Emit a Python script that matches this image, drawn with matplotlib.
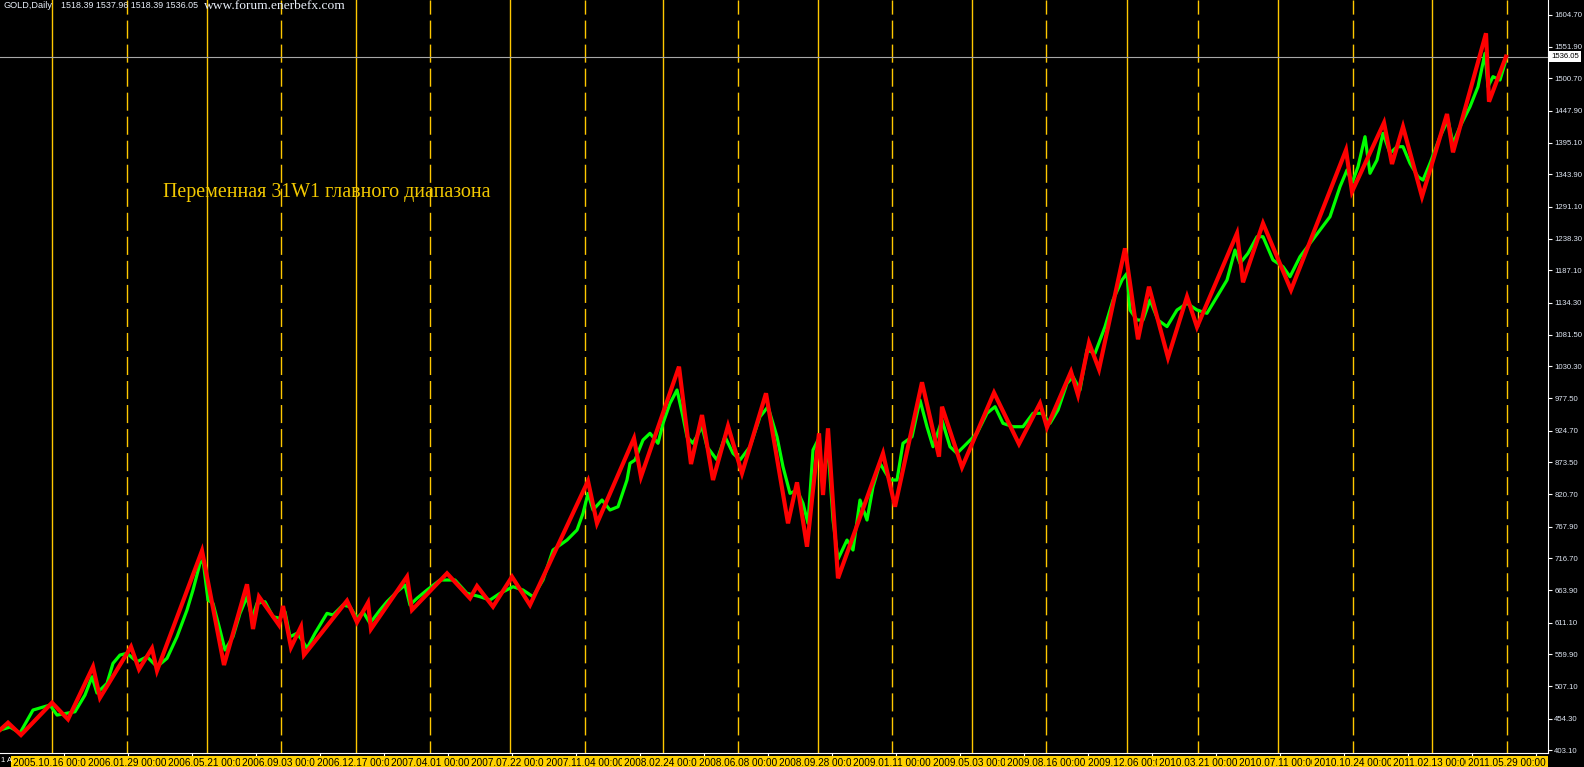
import matplotlib.pyplot as plt
import matplotlib.transforms as mtransforms

# zigzag "31W1" vertices: bar index (one bar per pixel) and price
zz_bar = [0, 8, 21, 52, 68, 93, 100, 131, 139, 152, 157, 202, 224, 247, 253, 259, 279, 283,
          291, 301, 304, 347, 357, 368, 371, 407, 412, 447, 470, 477, 493, 512, 530, 588,
          597, 634, 641, 679, 691, 702, 713, 728, 742, 766, 788, 797, 807, 819, 823, 828,
          838, 883, 895, 922, 939, 942, 962, 994, 1019, 1040, 1047, 1071, 1078, 1089, 1099,
          1125, 1138, 1149, 1168, 1187, 1197, 1237, 1243, 1263, 1291, 1346, 1352, 1384,
          1392, 1403, 1422, 1447, 1453, 1486, 1489, 1506]
zz_price = [435.8, 447.7, 427.6, 480.4, 453.2, 539.2, 488.5, 571.9, 535.0, 569.3, 532.7,
            728.8, 542.0, 673.9, 600.8, 653.6, 607.3, 638.4, 570.9, 604.6, 558.3, 647.1,
            611.8, 643.8, 600.8, 686.3, 632.0, 691.8, 651.0, 671.1, 637.3, 686.3, 640.0,
            842.7, 773.5, 912.5, 849.7, 1029.5, 870.4, 950.5, 844.3, 932.6, 855.3, 986.0,
            773.5, 840.5, 735.3, 920.6, 819.8, 928.8, 683.7, 887.9, 800.7, 1004.0, 882.4,
            964.1, 865.1, 987.0, 903.1, 969.6, 930.4, 1021.3, 983.2, 1068.7, 1025.2, 1222.9,
            1074.2, 1160.2, 1044.2, 1143.9, 1094.3, 1247.5, 1167.4, 1263.8, 1154.8, 1383.6,
            1315.4, 1428.2, 1360.7, 1421.7, 1307.3, 1442.4, 1379.8, 1574.3, 1462.5, 1536.1]

# daily GOLD price (green)
close_bar = [0, 10, 20, 33, 50, 57, 75, 85, 92, 97, 107, 113, 120, 127, 137, 147, 157, 167,
             177, 187, 193, 200, 203, 208, 213, 220, 225, 233, 240, 247, 252, 257, 265, 273,
             280, 285, 290, 297, 302, 307, 315, 327, 333, 343, 350, 357, 363, 370, 380, 387,
             397, 405, 410, 417, 427, 440, 455, 467, 480, 490, 500, 513, 523, 533, 543, 553,
             567, 577, 583, 588, 593, 602, 610, 618, 627, 630, 635, 643, 650, 658, 663, 670,
             677, 683, 687, 693, 702, 707, 717, 725, 733, 740, 750, 760, 768, 777, 783, 790,
             797, 803, 808, 813, 818, 823, 828, 833, 838, 847, 853, 860, 867, 873, 880, 890,
             897, 903, 912, 920, 927, 933, 942, 950, 957, 967, 977, 987, 995, 1003, 1013,
             1023, 1033, 1042, 1050, 1058, 1067, 1073, 1080, 1087, 1095, 1105, 1113, 1122,
             1127, 1130, 1137, 1143, 1150, 1158, 1167, 1177, 1187, 1197, 1207, 1217, 1227,
             1235, 1240, 1248, 1257, 1263, 1273, 1283, 1290, 1300, 1310, 1320, 1330, 1340,
             1347, 1352, 1358, 1365, 1370, 1377, 1383, 1390, 1397, 1403, 1410, 1418, 1423,
             1430, 1440, 1448, 1453, 1460, 1470, 1478, 1485, 1488, 1493, 1500, 1505, 1506]
close_price = [435.7, 440.6, 430.8, 468.4, 476.6, 460.2, 465.6, 492.9, 522.8, 496.2, 512.0,
               544.7, 558.3, 561.1, 547.3, 555.5, 539.2, 552.9, 588.2, 631.8, 664.5, 708.2,
               713.5, 648.2, 642.8, 599.2, 566.5, 588.2, 626.4, 653.6, 618.3, 642.8, 645.4,
               620.9, 618.3, 629.1, 588.2, 593.8, 582.8, 569.2, 593.8, 626.4, 623.7, 640.0,
               637.2, 618.3, 629.1, 610.1, 631.8, 645.4, 661.7, 672.7, 640.0, 651.0, 664.5,
               680.9, 680.9, 659.1, 653.6, 648.2, 659.1, 669.9, 664.5, 653.6, 680.9, 729.9,
               746.2, 762.6, 789.9, 822.5, 795.3, 811.6, 795.3, 800.6, 844.3, 871.6, 877.0,
               909.7, 920.6, 904.3, 936.9, 969.6, 991.4, 947.7, 915.0, 904.3, 931.4, 898.7,
               877.0, 915.0, 887.9, 877.0, 898.7, 947.7, 964.1, 915.0, 866.0, 822.5, 827.9,
               806.2, 773.5, 893.3, 909.7, 844.3, 898.7, 778.9, 715.0, 746.2, 729.9, 811.6,
               778.9, 833.3, 871.6, 844.3, 844.3, 904.3, 915.0, 975.0, 931.4, 898.7, 942.3,
               898.7, 887.9, 904.3, 920.6, 953.3, 964.1, 936.9, 931.4, 931.4, 953.3, 953.3,
               936.9, 958.7, 1002.3, 1013.1, 991.4, 1056.7, 1051.3, 1094.8, 1138.4, 1171.1,
               1182.1, 1122.1, 1105.7, 1105.7, 1138.4, 1105.7, 1095.0, 1122.1, 1133.0, 1122.1,
               1116.7, 1143.8, 1171.1, 1220.1, 1198.4, 1214.8, 1241.9, 1241.9, 1203.8, 1192.9,
               1176.5, 1209.2, 1231.1, 1252.8, 1274.6, 1323.6, 1350.9, 1329.2, 1356.3, 1405.3,
               1345.5, 1367.2, 1410.9, 1378.2, 1389.0, 1389.0, 1361.8, 1339.9, 1334.5, 1361.8,
               1405.3, 1432.6, 1394.5, 1421.6, 1454.3, 1487.0, 1541.6, 1487.0, 1503.4, 1498.0,
               1525.3, 1536.05]

y_ticks = [403.10, 454.30, 507.10, 559.90, 611.10, 663.90, 716.70, 767.90, 820.70, 873.50,
           924.70, 977.50, 1030.30, 1081.50, 1134.30, 1187.10, 1238.30, 1291.10, 1343.90,
           1395.10, 1447.90, 1500.70, 1551.90, 1604.70]

# vertical date lines and their labels
sep_bars = [52, 127, 207, 281, 356, 430, 510, 585, 663, 738, 818, 892, 972, 1046, 1127,
            1198, 1278, 1353, 1432, 1507]
sep_dates = ['2005.10.16', '2006.01.29', '2006.05.21', '2006.09.03', '2006.12.17',
             '2007.04.01', '2007.07.22', '2007.11.04', '2008.02.24', '2008.06.08',
             '2008.09.28', '2009.01.11', '2009.05.03', '2009.08.16', '2009.12.06',
             '2010.03.21', '2010.07.11', '2010.10.24', '2011.02.13', '2011.05.29']

last_price = 1536.05
ohlc_text = '1518.39 1537.96 1518.39 1536.05'

ui_font = 'Liberation Sans'
txt_col = '#e8eef8'

W, H = 1584, 767
fig = plt.figure(figsize=(W / 100, H / 100), dpi=100, facecolor='black')
ax = fig.add_axes([0, 14 / H, 1548 / W, 753 / H])
ax.set_facecolor('black')
ax.set_xlim(0, 1548)
ax.set_ylim(398.2, 1628.7)

gold = '#FFC800'
for i, b in enumerate(sep_bars):
    if i % 2 == 0:
        ax.axvline(b, color=gold, lw=1.0, zorder=1)
    else:
        ax.axvline(b, color=gold, lw=1.0, ls=(4.3, (13, 4.3)), zorder=1)

ax.axhline(last_price, color='#a8a8a8', lw=0.8, zorder=1)

ax.plot(close_bar, close_price, color='#00FF00', lw=2.3, zorder=2)
ax.plot(zz_bar, zz_price, color='#FF0000', lw=3.0, zorder=3, solid_joinstyle='miter')

for s in ['top', 'left']:
    ax.spines[s].set_visible(False)
for s in ['right', 'bottom']:
    ax.spines[s].set_color('white')
    ax.spines[s].set_linewidth(0.8)

ax.set_xticks([63.5 + 64 * k for k in range(24)])
ax.tick_params(axis='x', direction='out', length=3, width=0.8, color='white',
               labelbottom=False)
ax.yaxis.tick_right()
ax.set_yticks(y_ticks)
ax.set_yticklabels([f'{v:.2f}' for v in y_ticks], family=ui_font)
ax.tick_params(axis='y', direction='out', length=3, width=0.8, color='white',
               labelcolor='#dfe6f2', labelsize=5.6, pad=1.5)

# date labels on the yellow strip
trans = ax.get_xaxis_transform()
for b, d in zip(sep_bars, sep_dates):
    ax.text(b, -9.5 / 753, f'{d} 00:00', transform=trans, ha='center', va='center',
            fontsize=7.2, family=ui_font, color='black', clip_on=False,
            bbox=dict(facecolor='#FFD200', edgecolor='none', pad=1.3))

# current price marker
ptrans = mtransforms.blended_transform_factory(ax.transAxes, ax.transData)
ax.text(1 + 3 / 1548, last_price, f'{last_price:.2f}', transform=ptrans, ha='left',
        va='center', fontsize=5.6, family=ui_font, color='black', clip_on=False,
        bbox=dict(facecolor='white', edgecolor='none', pad=1.3))

fig.text(3 / W, 1 - 6 / H, 'GOLD,Daily', ha='left', va='center', fontsize=6.6,
         family=ui_font, color=txt_col)
fig.text(61 / W, 1 - 6 / H, ohlc_text, ha='left', va='center', fontsize=6.4,
         family=ui_font, color=txt_col)
fig.text(204 / W, 1 - 6 / H, 'www.forum.enerbefx.com', ha='left', va='center',
         fontsize=9.7, family='Liberation Serif', color=txt_col)
fig.text(1 / W, 1 - 761 / H, '1 A', ha='left', va='center', fontsize=5.5,
         family=ui_font, color='white')

fig.text(163 / W, 1 - 192 / H, 'Переменная 31W1 главного диапазона', ha='left',
         va='center', fontsize=14.4, family='Liberation Serif', color='#F2C800')

fig.savefig('out.png', dpi=100, facecolor='black')
